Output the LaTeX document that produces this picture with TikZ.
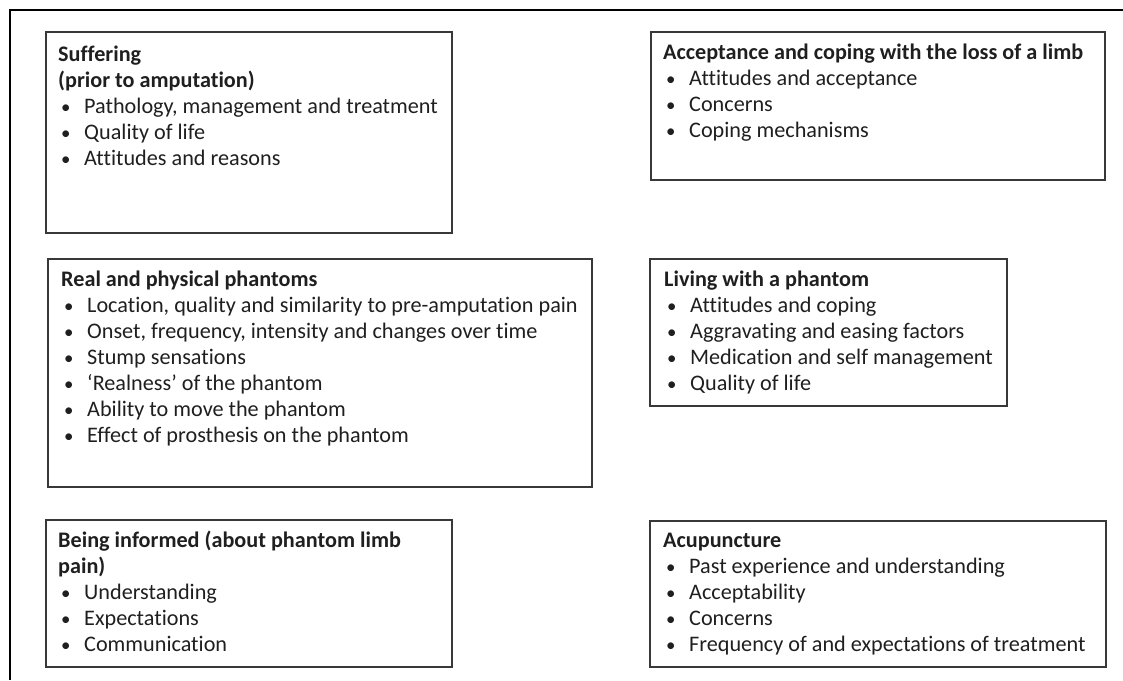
\documentclass[tikz,border=0pt]{standalone}
\usepackage{fontspec}
\setmainfont{Carlito}[Ligatures={NoCommon}]
\usetikzlibrary{calc}
\newcommand{\bit}[1]{\hspace*{3pt}\makebox[23pt][l]{\scalebox{0.85}{\textbullet}}#1}
\begin{document}
\begin{tikzpicture}[x=1pt,y=-1pt,
  box/.style={draw=black!78, line width=1.7pt, rectangle, inner sep=0pt, anchor=north west},
  txt/.style={anchor=base west, inner sep=0pt, text=black!88,
    font={\fontsize{22.2}{26}\selectfont}},
  frame/.style={draw=black, line width=1.3pt}]
\useasboundingbox (0,0) rectangle (1123,680);
\draw[frame] (10,680) -- (10,10) -- (1123,10);
% boxes
\node[box, minimum width=406, minimum height=201] (b1) at (45,31) {};
\node[box, minimum width=454, minimum height=148] (b2) at (650,31) {};
\node[box, minimum width=544, minimum height=228] (b3) at (47,258) {};
\node[box, minimum width=357, minimum height=147] (b4) at (649,258) {};
\node[box, minimum width=406, minimum height=147] (b5) at (45,519) {};
\node[box, minimum width=456, minimum height=146] (b6) at (649,520) {};
% texts
\node[txt] (t1) at ($(b1.north west)+(13,30)$) {\begin{tabular}[t]{@{}l@{}}
\textbf{Suffering}\\
\textbf{(prior to amputation)}\\
\bit{Pathology, management and treatment}\\
\bit{Quality of life}\\
\bit{Attitudes and reasons}
\end{tabular}};
\node[txt] (t2) at ($(b2.north west)+(13,28)$) {\begin{tabular}[t]{@{}l@{}}
\textbf{Acceptance and coping with the loss of a limb}\\
\bit{Attitudes and acceptance}\\
\bit{Concerns}\\
\bit{Coping mechanisms}
\end{tabular}};
\node[txt] (t3) at ($(b3.north west)+(14,28)$) {\begin{tabular}[t]{@{}l@{}}
\textbf{Real and physical phantoms}\\
\bit{Location, quality and similarity to pre-amputation pain}\\
\bit{Onset, frequency, intensity and changes over time}\\
\bit{Stump sensations}\\
\bit{‘Realness’ of the phantom}\\
\bit{Ability to move the phantom}\\
\bit{Effect of prosthesis on the phantom}
\end{tabular}};
\node[txt] (t4) at ($(b4.north west)+(15,28)$) {\begin{tabular}[t]{@{}l@{}}
\textbf{Living with a phantom}\\
\bit{Attitudes and coping}\\
\bit{Aggravating and easing factors}\\
\bit{Medication and self management}\\
\bit{Quality of life}
\end{tabular}};
\node[txt] (t5) at ($(b5.north west)+(13,28)$) {\begin{tabular}[t]{@{}l@{}}
\textbf{Being informed (about phantom limb}\\
\textbf{pain)}\\
\bit{Understanding}\\
\bit{Expectations}\\
\bit{Communication}
\end{tabular}};
\node[txt] (t6) at ($(b6.north west)+(14,27)$) {\begin{tabular}[t]{@{}l@{}}
\textbf{Acupuncture}\\
\bit{Past experience and understanding}\\
\bit{Acceptability}\\
\bit{Concerns}\\
\bit{Frequency of and expectations of treatment}
\end{tabular}};
\end{tikzpicture}
\end{document}
